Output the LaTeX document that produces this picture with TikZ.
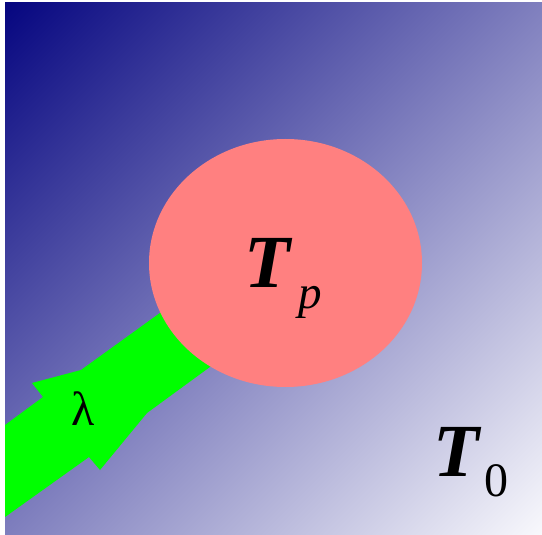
\documentclass[tikz,border=0pt]{standalone}
\usepackage{fontspec}
\setmainfont{Liberation Serif}
\usepackage{xcolor}
\usepackage{tikz}
\usetikzlibrary{positioning,shapes.geometric}
\definecolor{deepnavy}{RGB}{6,6,128}
\definecolor{palesky}{RGB}{248,248,252}
\definecolor{particlepink}{RGB}{255,128,128}
\definecolor{beamgreen}{RGB}{0,255,0}
\pgfdeclareverticalshading{diagfade}{100bp}{color(0bp)=(palesky); color(14.6bp)=(palesky);
  color(85.4bp)=(deepnavy); color(100bp)=(deepnavy)}

\begin{document}
\begin{tikzpicture}[x=1pt, y=-1pt, every node/.style={inner sep=0pt}]
  \tikzstyle{bigsym}=[font=\fontsize{75}{80}\selectfont\bfseries\itshape]
  \tikzstyle{subsym}=[font=\fontsize{48}{50}\selectfont]
  \useasboundingbox (0,0) rectangle (542,535);
  % background medium
  \shade[shading=diagfade, shading angle=45] (5,3) rectangle (542,535);
  % laser beam
  \fill[beamgreen] (5,425) -- (43,397) -- (32,383) -- (81,370) -- (200,284)
    -- (240,345) -- (147,413) -- (100,470) -- (89,457) -- (5,517) -- cycle;
  % particle
  \node[ellipse, fill=particlepink, minimum width=273pt, minimum height=248pt] (particle) at (285.5,263) {};
  \node[bigsym] (tp) at (267.5,263) {T};
  \node[subsym, font=\fontsize{47}{50}\selectfont\itshape] (tpsub) at (310,302.5) {p};
  \node[subsym] (lam) at (83.5,408.5) {λ};
  \node[bigsym] (tz) at (456,451.5) {T};
  \node[subsym] (tzsub) at (496.5,481) {0};
\end{tikzpicture}
\end{document}
